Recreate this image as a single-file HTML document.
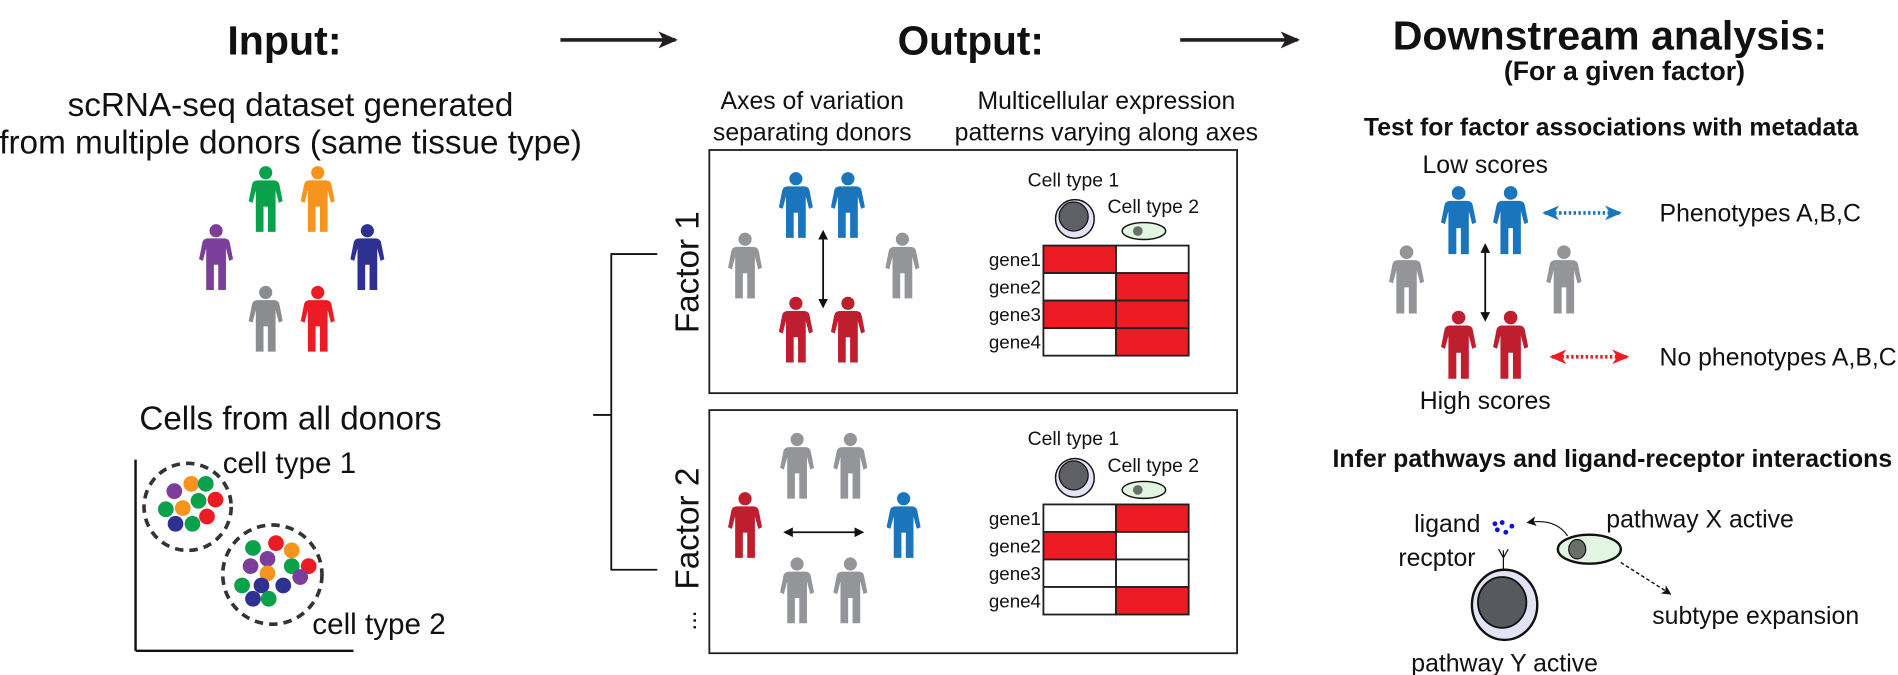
<!DOCTYPE html>
<html><head><meta charset="utf-8">
<style>
html,body{margin:0;padding:0;background:#fff;}
svg{display:block;}
text{font-family:"Liberation Sans",Arial,sans-serif;fill:#111;}
</style></head>
<body>
<svg id="fig" width="1898" height="675" viewBox="0 0 1568 558" preserveAspectRatio="none">
<defs>
<symbol id="person" viewBox="-16 0 32 60" overflow="visible">
<circle cx="0" cy="6" r="6"/>
<path d="M-8,13 L8,13 Q12,13.5 12.5,17 L15.5,32 L12,33.5 L9,22 L9,60 L2,60 L2,37 L-2,37 L-2,60 L-9,60 L-9,22 L-12,33.5 L-15.5,32 L-12.5,17 Q-12,13.5 -8,13 Z"/>
</symbol>
<marker id="ah" markerWidth="8" markerHeight="8" refX="6" refY="4" orient="auto-start-reverse" markerUnits="userSpaceOnUse"><path d="M0,0 L8,4 L0,8 Z" fill="#111"/></marker>
<marker id="ahBig" markerWidth="16" markerHeight="14" refX="14" refY="7" orient="auto" markerUnits="userSpaceOnUse"><path d="M0,0 L16,7 L0,14 L4,7 Z" fill="#231f20"/></marker>
<marker id="ahBlue" markerWidth="14" markerHeight="12" refX="12" refY="6" orient="auto-start-reverse" markerUnits="userSpaceOnUse"><path d="M0,0 L14,6 L0,12 L4,6 Z" fill="#1b75bc"/></marker>
<marker id="ahRed" markerWidth="14" markerHeight="12" refX="12" refY="6" orient="auto-start-reverse" markerUnits="userSpaceOnUse"><path d="M0,0 L14,6 L0,12 L4,6 Z" fill="#ed1c24"/></marker>
<marker id="ahSmall" markerWidth="8" markerHeight="8" refX="7" refY="4" orient="auto" markerUnits="userSpaceOnUse"><path d="M0,0 L8,4 L0,8 L2,4 Z" fill="#111"/></marker>
</defs>

<!-- Titles -->
<text x="235" y="45" font-size="34" font-weight="bold" text-anchor="middle">Input:</text>
<text x="802" y="45" font-size="33.5" font-weight="bold" text-anchor="middle">Output:</text>
<text x="1330" y="41" font-size="34" font-weight="bold" text-anchor="middle">Downstream analysis:</text>
<text x="1342" y="66" font-size="22" font-weight="bold" text-anchor="middle">(For a given factor)</text>
<line x1="463" y1="33" x2="558" y2="33" stroke="#231f20" stroke-width="3" marker-end="url(#ahBig)"/>
<line x1="975" y1="33" x2="1072" y2="33" stroke="#231f20" stroke-width="3" marker-end="url(#ahBig)"/>

<!-- Input panel -->
<text x="240" y="96" font-size="27.5" text-anchor="middle">scRNA-seq dataset generated</text>
<text x="240" y="127" font-size="27.5" text-anchor="middle">from multiple donors (same tissue type)</text>
<g>
<use href="#person" x="205" y="136" width="29" height="57" fill="#0aa14b"/>
<use href="#person" x="248" y="136" width="29" height="57" fill="#f7941d"/>
<use href="#person" x="164" y="184" width="29" height="57" fill="#7b3f9a"/>
<use href="#person" x="289" y="184" width="29" height="57" fill="#2e3192"/>
<use href="#person" x="205" y="235" width="29" height="57" fill="#8a8c8e"/>
<use href="#person" x="248" y="235" width="29" height="57" fill="#ed1c24"/>
</g>
<text x="240" y="355" font-size="27.4" text-anchor="middle">Cells from all donors</text>
<g>
<line x1="112" y1="380" x2="112" y2="538" stroke="#111" stroke-width="2"/>
<line x1="112" y1="538" x2="292" y2="538" stroke="#111" stroke-width="2"/>
<circle cx="155" cy="419" r="36" fill="none" stroke="#333" stroke-width="3" stroke-dasharray="7,5"/>
<circle cx="225" cy="475" r="41" fill="none" stroke="#333" stroke-width="3" stroke-dasharray="7,5"/>
<g id="dots"></g>
<text x="184" y="391" font-size="24.5">cell type 1</text>
<text x="258" y="524" font-size="24.5">cell type 2</text>
</g>

<!-- Bracket -->
<path d="M490,343 H505 V210 H543 M505,343 V471 H543" fill="none" stroke="#111" stroke-width="1.5"/>

<!-- Output headers -->
<text x="671" y="90" font-size="20.5" text-anchor="middle">Axes of variation</text>
<text x="671" y="116" font-size="20.5" text-anchor="middle">separating donors</text>
<text x="914" y="90" font-size="20.5" text-anchor="middle">Multicellular expression</text>
<text x="914" y="116" font-size="20.5" text-anchor="middle">patterns varying along axes</text>

<!-- Factor labels -->
<text transform="translate(577,225) rotate(-90)" font-size="27.5" text-anchor="middle">Factor 1</text>
<text transform="translate(577,437) rotate(-90)" font-size="27.5" text-anchor="middle">Factor 2</text>
<text transform="translate(575,513) rotate(-90)" font-size="20" text-anchor="middle">...</text>

<!-- Box 1 -->
<rect x="586" y="124" width="436" height="201" fill="none" stroke="#231f20" stroke-width="1.5"/>
<g>
<use href="#person" x="643" y="140" width="29" height="59" fill="#1b75bc"/>
<use href="#person" x="686" y="140" width="29" height="59" fill="#1b75bc"/>
<use href="#person" x="601" y="190" width="29" height="59" fill="#939598"/>
<use href="#person" x="731" y="190" width="29" height="59" fill="#939598"/>
<use href="#person" x="643" y="243" width="29" height="59" fill="#be1e2d"/>
<use href="#person" x="686" y="243" width="29" height="59" fill="#be1e2d"/>
<line x1="680" y1="192" x2="680" y2="253" stroke="#111" stroke-width="1.5" marker-start="url(#ah)" marker-end="url(#ah)"/>
</g>
<!-- Box 2 -->
<rect x="586" y="339" width="436" height="201" fill="none" stroke="#231f20" stroke-width="1.5"/>
<g>
<use href="#person" x="644" y="356" width="29" height="58" fill="#939598"/>
<use href="#person" x="688" y="356" width="29" height="58" fill="#939598"/>
<use href="#person" x="601" y="405" width="29" height="58" fill="#be1e2d"/>
<use href="#person" x="732" y="405" width="29" height="58" fill="#1b75bc"/>
<use href="#person" x="644" y="459" width="29" height="58" fill="#939598"/>
<use href="#person" x="688" y="459" width="29" height="58" fill="#939598"/>
<line x1="649" y1="440" x2="712" y2="440" stroke="#111" stroke-width="1.5" marker-start="url(#ah)" marker-end="url(#ah)"/>
</g>
<g id="heatmaps"></g>

<!-- Downstream: metadata -->
<text x="1331" y="112" font-size="20.5" font-weight="bold" text-anchor="middle">Test for factor associations with metadata</text>
<text x="1227" y="143" font-size="20.5" text-anchor="middle">Low scores</text>
<g>
<use href="#person" x="1190" y="153" width="30" height="58" fill="#1b75bc"/>
<use href="#person" x="1233" y="153" width="30" height="58" fill="#1b75bc"/>
<use href="#person" x="1147" y="202" width="30" height="58" fill="#939598"/>
<use href="#person" x="1277" y="202" width="30" height="58" fill="#939598"/>
<use href="#person" x="1190" y="256" width="30" height="58" fill="#be1e2d"/>
<use href="#person" x="1233" y="256" width="30" height="58" fill="#be1e2d"/>
<line x1="1227" y1="203" x2="1227" y2="264" stroke="#111" stroke-width="1.5" marker-start="url(#ah)" marker-end="url(#ah)"/>
</g>
<line x1="1276" y1="176" x2="1338" y2="176" stroke="#1b75bc" stroke-width="3" stroke-dasharray="2,2" marker-start="url(#ahBlue)" marker-end="url(#ahBlue)"/>
<line x1="1282" y1="295" x2="1344" y2="295" stroke="#ed1c24" stroke-width="3" stroke-dasharray="2,2" marker-start="url(#ahRed)" marker-end="url(#ahRed)"/>
<text x="1371" y="183" font-size="20.5">Phenotypes A,B,C</text>
<text x="1371" y="302" font-size="20.5">No phenotypes A,B,C</text>
<text x="1227" y="338" font-size="20.5" text-anchor="middle">High scores</text>

<!-- Downstream: pathways -->
<text x="1332" y="386" font-size="20.5" font-weight="bold" text-anchor="middle">Infer pathways and ligand-receptor interactions</text>
<text x="1223" y="440" font-size="20.5" text-anchor="end">ligand</text>
<text x="1219" y="468" font-size="20.5" text-anchor="end">recptor</text>
<g fill="#1010d0">
<circle cx="1235" cy="433" r="2"/><circle cx="1241" cy="432" r="2"/><circle cx="1237" cy="438" r="2"/><circle cx="1244" cy="440" r="2"/><circle cx="1249" cy="435" r="2"/>
</g>
<path d="M1242,455 L1242,472 M1242,461 L1238,454 M1242,461 L1246,454" stroke="#111" stroke-width="1" fill="none"/>
<ellipse cx="1243" cy="500" rx="27" ry="29" fill="#e4e3f6" stroke="#111" stroke-width="2"/>
<ellipse cx="1241" cy="498" rx="20" ry="21" fill="#58585f" stroke="#111" stroke-width="1.5"/>
<ellipse cx="1313" cy="454" rx="26" ry="12" fill="#e2f5e2" stroke="#111" stroke-width="2"/>
<ellipse cx="1303" cy="454" rx="7" ry="8" fill="#6a6f6a" stroke="#111" stroke-width="1"/>
<path d="M1295,443 Q1285,428 1262,432" fill="none" stroke="#111" stroke-width="1" marker-end="url(#ahSmall)"/>
<text x="1327" y="436" font-size="20.5">pathway X active</text>
<line x1="1339" y1="465" x2="1380" y2="491" stroke="#111" stroke-width="1.2" stroke-dasharray="3,2" marker-end="url(#ahSmall)"/>
<text x="1365" y="516" font-size="20.5">subtype expansion</text>
<text x="1243" y="555" font-size="20.5" text-anchor="middle">pathway Y active</text>
</svg>

<script>
var NS = "http://www.w3.org/2000/svg";
var geneNames = ["gene1", "gene2", "gene3", "gene4"];
var cellTypes = ["Cell type 1", "Cell type 2"];
var factor1Values = [[1,0],[0,1],[1,1],[0,1]];
var factor2Values = [[0,1],[1,0],[0,0],[0,1]];
var cluster1Colors = ["#7b3f9a","#f7941d","#0aa14b","#0aa14b","#f7941d","#0aa14b","#ed1c24","#ed1c24","#2e3192","#0aa14b"];
var cluster2Colors = ["#0aa14b","#ed1c24","#f7941d","#7b3f9a","#7b3f9a","#f7941d","#0aa14b","#ed1c24","#7b3f9a","#0aa14b","#2e3192","#2e3192","#2e3192","#0aa14b"];

function mk(tag, attrs, parent){var e=document.createElementNS(NS,tag);for(var k in attrs)e.setAttribute(k,attrs[k]);parent.appendChild(e);return e;}

var dots = document.getElementById('dots');
var c1 = [[144,406],[158,400],[170,400],[137,421],[151,420],[164,414],[178,413],[171,427],[145,433],[159,433]];
var c2 = [[209,453],[228,449],[241,455],[207,468],[221,462],[221,474],[241,468],[255,468],[248,477],[200,484],[216,484],[234,484],[209,495],[222,495]];
cluster1Colors.forEach(function(col,i){
  var c = mk('circle',{cx:c1[i][0],cy:c1[i][1],r:6.5,fill:col},dots);
  
  
});
cluster2Colors.forEach(function(col,i){
  var c = mk('circle',{cx:c2[i][0],cy:c2[i][1],r:6.5,fill:col},dots);
  
  
});

function heatmap(values, gy, name){
  var g = mk('g',{},document.getElementById('heatmaps'));
  
  
  var x0=862, cw=60, rh=22.75;
  var t1 = mk('text',{x:849,y:gy-49,'font-size':16},g); t1.textContent=cellTypes[0];
  
  
  var t2 = mk('text',{x:915,y:gy-27,'font-size':16},g); t2.textContent=cellTypes[1];
  
  
  mk('circle',{cx:888,cy:gy-22,r:16,fill:'#e4e3f6',stroke:'#111','stroke-width':1.2},g);
  mk('circle',{cx:887,cy:gy-24,r:12,fill:'#5f5f66',stroke:'#111','stroke-width':1},g);
  mk('ellipse',{cx:945,cy:gy-12,rx:18,ry:7,fill:'#e2f5e2',stroke:'#111','stroke-width':1.2},g);
  mk('circle',{cx:940,cy:gy-12,r:4,fill:'#6a6f6a'},g);
  values.forEach(function(row,r){
    var lab = mk('text',{x:x0-2,y:gy+r*rh+rh/2+5.5,'font-size':15.5,'text-anchor':'end'},g);
    lab.textContent = geneNames[r];
    
    
    row.forEach(function(v,c){
      var rc = mk('rect',{x:x0+c*cw,y:gy+r*rh,width:cw,height:rh,fill:v?'#ed1c24':'#ffffff',stroke:'#231f20','stroke-width':1.5},g);
      
      
    });
  });
}
heatmap(factor1Values, 203, 'factor-1-heatmap');
heatmap(factor2Values, 417, 'factor-2-heatmap');
</script>
</body></html>
